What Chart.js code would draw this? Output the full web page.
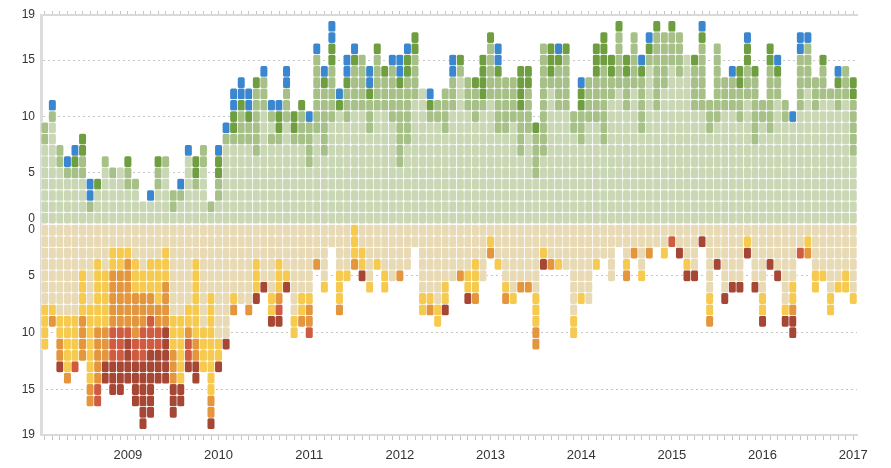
<!DOCTYPE html>
<html><head><meta charset="utf-8">
<script src="https://cdn.jsdelivr.net/npm/chart.js@4.4.1/dist/chart.umd.min.js"></script>
<style>html,body{margin:0;padding:0;background:#fff;}#wrap{width:891px;height:468px;}</style>
</head><body>
<div id="wrap"><canvas id="c" width="891" height="468"></canvas></div>
<script>
// Monthly categories (Feb 2008 .. Jan 2017)
const months = [
  '2008-02','2008-03','2008-04','2008-05','2008-06','2008-07','2008-08','2008-09','2008-10','2008-11','2008-12',
  '2009-01','2009-02','2009-03','2009-04','2009-05','2009-06','2009-07','2009-08','2009-09','2009-10','2009-11','2009-12',
  '2010-01','2010-02','2010-03','2010-04','2010-05','2010-06','2010-07','2010-08','2010-09','2010-10','2010-11','2010-12',
  '2011-01','2011-02','2011-03','2011-04','2011-05','2011-06','2011-07','2011-08','2011-09','2011-10','2011-11','2011-12',
  '2012-01','2012-02','2012-03','2012-04','2012-05','2012-06','2012-07','2012-08','2012-09','2012-10','2012-11','2012-12',
  '2013-01','2013-02','2013-03','2013-04','2013-05','2013-06','2013-07','2013-08','2013-09','2013-10','2013-11','2013-12',
  '2014-01','2014-02','2014-03','2014-04','2014-05','2014-06','2014-07','2014-08','2014-09','2014-10','2014-11','2014-12',
  '2015-01','2015-02','2015-03','2015-04','2015-05','2015-06','2015-07','2015-08','2015-09','2015-10','2015-11','2015-12',
  '2016-01','2016-02','2016-03','2016-04','2016-05','2016-06','2016-07','2016-08','2016-09','2016-10','2016-11','2016-12',
  '2017-01'
];

// Upper panel: one string per month, cells listed from the baseline upward
// L = light green, M = mid green, D = dark green, B = blue
const topCols = [
  'LLLLLLLMM','LLLLLLLLLMB','LLLLLMM','LLLLMB','LLLLMDB','LLLLMMDD','LMBB','LLLD','LLLLLM','LLLLM','LLLLL',
  'LLLMMD','LLLM','LL','LLB','LLLMMD','LLLLLM','LMM','LLMB','LLLLLLB','LLLMDD','LLLLLMM','LM',
  'LLMMDDB','LLLLLLLMB','LLLLLLLMDDBB','LLLLLLLMMMDBB','LLLLLLLMMDBB','LLLLLLMMMMMMD','LLLLLLLLLLMMMB','LLLLLLLMLMB','LLLLLLLMDDB','LLLLLLLLLMMMBB','LLLLLLLMDD','LLLLLLLMMMD',
  'LLLLLMMMMB','LLLLLLLLMMMMMMMB','LLLLLLMMMMMMDB','LLLLLLLLLMMMMMDDBB','LLLLLLLLLLDB','LLLLLLLLLMMMDBB','LLLLLLLLLLMMMMDB','LLLLLLLLLLMMMMM','LLLLLLLLMMMDBB','LLLLLLLLLLMMMMMD','LLLLLLLLLLMMMD','LLLLLLLLLMMMMMB',
  'LLLLLMMMMMMMDBB','LLLLLLLMMMMMMDDB','LLLLLLLLLLLMMMMDD','LLLLLLLLLLLL','LLLLLLLLLMDB','LLLLLLLLLMM','LLLLLLLLMMMM','LLLLLLLLLLMMMBB','LLLLLLLLLLLLLMD','LLLLLLLLLLMMM','LLLLLLLLLMMMD','LLLLLLLLLLMDDDD',
  'LLLLLLLLLLLMMMMMD','LLLLLLLLMMMMMDBB','LLLLLLLLMMMMM','LLLLLLLLLMMMM','LLLLLLMMMMDDDD','LLLLLLLLMMMMDD','LLLLMMMMD','LLLLLLMMMMMMMMMM','LLLLLLLLLLLLMDDD','LLLLLLLLLLMMMMDB','LLLLLLLLLLMMMMMD','LLLLLLLLMM',
  'LLLLLLLMMMDDB','LLLLLLLLLMMMM','LLLLLLLLLMMMMDDD','LLLLLLLMMMMMMMDDD','LLLLLLLLLLLMMDD','LLLLLLLLLLLLMMMMMD','LLLLLLLLLLMMMDD','LLLLLLLLLLLLMMMMM','LLLLLLLLMMMMMDB','LLLLLLLLLLLLLLMDB','LLLLLLLLLLMMMMMMMD','LLLLLLLLLLLLMMMMM',
  'LLLLLLLLLLLLLLMMMD','LLLLLLLLLLLLLMMMM','LLLLLLLLLLLLLLL','LLLLLLLLLLMMMMD','LLLLLLLLLLMMMMMMDB','LLLLLLLLMMM','LLLLLLLLLMMMMMMM','LLLLLLLLLLMMM','LLLLLLLLLLMMMB','LLLLLLLLLMMMDD','LLLLLLLLLLLMMMDDB','LLLLLLLMMMMMMD',
  'LLLLLLLLLMM','LLLLLLLLMMMMMMDD','LLLLLLLLLLLMMDB','LLLLLLLLLMM','LLLLLLLLLB','LLLLLLLLLLMMMMMBB','LLLLLLLLLLLLMMMMB','LLLLLLLLLLMMM','LLLLLLLLLLLMMMD','LLLLLLLLLLLM','LLLLLLLLLLMMDB','LLLLLLLLLLLMMM',
  'LLLLLLMMMMMDD'
];

// Lower panel: cells listed from the baseline downward
// T = tan, Y = yellow, O = orange, R = red, X = dark red
const bottomCols = [
  'TTTTTTTYYYY','TTTTTTTYO','TTTTTTTTYYOOX','TTTTTTTTYYYYYO','TTTTTTTTYYYYR','TTTTYYYYOOOO','TTTTTTTYYYYYYYOO','TTTYYYYYYOOOOORR','TTTTYYYYYOOOXX','TTYYOOOOORRRXXX','TTYYOOOOORRRXXX',
  'TTYOOOOOORXXXX','TTTYYYOOOORRXXXX','TTTTYYOOORRRXXXXXX','TTTYYYOORRRXXXXXX','TTTYYYYOORRXXX','TTYYYOOOOXXXXX','TTTTTTTTYYYOOOXXX','TTTTTTTTYYYYYYXX','TTTTTTTYYORRX','TTTYYYYYYYOOXX','TTTTTTTTTYYYY','TTTTTTYYYYYYYYYOOX',
  'TTTTTTTTTTYYX','TTTTTTTTTTX','TTTTTTYO','TTTTTTT','TTTTTTTO','TTTYYYX','TTTTTX','TTTTTTYYX','TTTYYYORX','TTTTYX','TTTTTTTTYY','TTTTTTYYO',
  'TTTTTTYOOR','TTTO','TTTTTY','TT','TTTTYYYO','TTTTY','YYYO','TTYYX','TTTTTY','TTTY','TTTTYY','TTTTT',
  'TTTTO','TTTT','TT','TTTTTTYY','TTTTTTYO','TTTTTTTYY','TTTTTYYX','TTTTT','TTTTO','TTTTYYX','TTTYYYO','TTTTT',
  'TYO','TTTY','TTTTTYO','TTTTTTY','TTTTTO','TTTTTO','TTTTTTYYYOO','TTYX','TTTO','TTTY','TTTT','TTTTTTTTYY',
  'TTTTTTY','TTTTTTT','TTTY','TTT','TTTTT','TT','TTTYO','TTO','TTTTY','TTO','TT','TTY',
  'TR','TTX','TTTYX','TTTTX','TX','TTTTTTYYO','TTTX','TTTTTTX','TTTTTX','TTTTTX','TYX','TTTTTX',
  'TTTTTTYYX','TTTX','TTTTX','TTTTTTTYX','TTTTTYYOXX','TTR','TYO','TTTTYY','TTTTY','TTTTTTYY','TTTTTY','TTTTYY',
  'TTTTTTY'
];

const topPalette = {L:'#c9d7b4', M:'#a6c088', D:'#6f9e41', B:'#3b87cf'};
const bottomPalette = {T:'#e8dab5', Y:'#f6c94f', O:'#e4963f', R:'#cf5b40', X:'#a64736'};
const yTickValues = [0, 5, 10, 15, 19];
const gridValues = [5, 10, 15];

// axis ranges (both value axes span the full plot height, panels meet in the middle)
const TOP_MIN = -18.23, TOP_MAX = 19;
const BOT_MIN = -17.93, BOT_MAX = 19;

const FONT = "'Liberation Sans', Helvetica, Arial, sans-serif";

function rowDatasets(cols, palette, axisId) {
  const maxRows = Math.max(...cols.map(s => s.length));
  const sets = [];
  for (let r = 0; r < maxRows; r++) {
    sets.push({
      yAxisID: axisId, xAxisID: 'x', stack: 'cells',
      data: cols.map(s => r < s.length ? [r + 0.5, r + 1.5] : null),
      backgroundColor: cols.map(s => palette[s[r]] || 'rgba(0,0,0,0)'),
      borderColor: '#ffffff', borderWidth: 0.6, borderSkipped: false, borderRadius: 2.2,
      barPercentage: 1, categoryPercentage: 1
    });
  }
  return sets;
}

// value on the lower (reversed) axis -> equivalent value on the upper axis
function lowerToUpper(v) {
  return TOP_MAX - (v - BOT_MIN) / (BOT_MAX - BOT_MIN) * (TOP_MAX - TOP_MIN);
}

const dotted = ctx => (ctx.tick && !ctx.tick.lower && gridValues.includes(ctx.tick.value)) ? '#c6c6c6' : 'rgba(0,0,0,0)';

new Chart(document.getElementById('c'), {
  type: 'bar',
  data: {
    labels: months,
    datasets: rowDatasets(topCols, topPalette, 'yT').concat(rowDatasets(bottomCols, bottomPalette, 'yB'))
  },
  options: {
    responsive: false, animation: false,
    layout: { padding: { left: 0, right: 34, top: 0, bottom: 0 } },
    plugins: { legend: { display: false }, tooltip: { enabled: false } },
    scales: {
      x: {
        type: 'category', position: 'bottom', stacked: true, offset: true,
        grid: { offset: false, drawOnChartArea: false, drawTicks: true, tickLength: 5, tickColor: '#c4c4c4', tickWidth: 1 },
        border: { color: '#dadada', width: 2 },
        ticks: {
          autoSkip: false, maxRotation: 0, minRotation: 0, padding: 8, color: '#333',
          font: { family: FONT, size: 13 },
          callback: (v, i) => months[i].endsWith('-01') ? months[i].slice(0, 4) : ''
        },
        afterFit: s => { s.height = 33; }
      },
      x2: {
        type: 'category', position: 'top', labels: months, offset: true,
        grid: { offset: false, drawOnChartArea: false, drawTicks: true, tickLength: 4, tickColor: '#c4c4c4', tickWidth: 1 },
        border: { color: '#dadada', width: 2 },
        ticks: { display: false, autoSkip: false },
        afterFit: s => { s.height = 15; }
      },
      yT: {
        type: 'linear', position: 'left', stacked: false, weight: 1,
        min: TOP_MIN, max: TOP_MAX,
        grid: { drawTicks: false, lineWidth: 1, color: dotted },
        border: { color: '#dcdcdc', width: 3, dash: [2, 3] },
        ticks: {
          padding: 6, autoSkip: false, color: '#333', font: { family: FONT, size: 12 },
          callback: (v, i, ticks) => ticks[i].txt
        },
        afterBuildTicks: s => {
          const own = yTickValues.map(v => ({ value: v, txt: String(v) }));
          const lower = yTickValues.map(v => ({ value: lowerToUpper(v), txt: String(v), lower: true }));
          s.ticks = own.concat(lower).sort((a, b) => a.value - b.value);
        },
        afterFit: s => { s.width = 41; }
      },
      yB: {
        type: 'linear', position: 'left', stacked: false, weight: 0, reverse: true,
        min: BOT_MIN, max: BOT_MAX,
        grid: { drawTicks: false, lineWidth: 1, color: dotted },
        border: { display: false, dash: [2, 3] },
        ticks: { display: false },
        afterBuildTicks: s => { s.ticks = yTickValues.map(v => ({ value: v })); },
        afterFit: s => { s.width = 0; }
      }
    }
  }
});
</script>
</body></html>
